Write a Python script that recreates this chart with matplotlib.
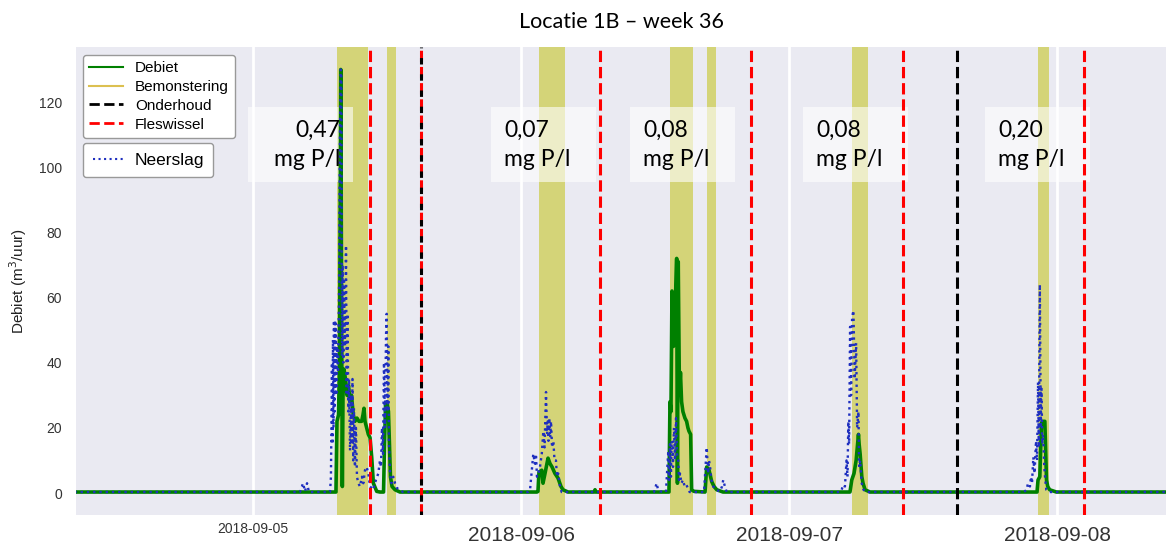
import matplotlib
matplotlib.use("Agg")
import matplotlib.pyplot as plt
from matplotlib.lines import Line2D
from matplotlib.patches import Rectangle

# tijd in uren sinds 2018-09-05 00:00
debiet_uur = [-16, 7.43, 7.52, 7.66, 7.75, 7.82, 7.86, 7.93, 8.00, 8.06, 8.15, 8.28, 8.42, 8.55,
              8.69, 8.82, 8.98, 9.13, 9.31, 9.49, 9.73, 9.85, 9.94, 10.03, 10.18, 10.33, 10.48,
              10.63, 10.78, 11.08, 11.37, 11.69, 11.78, 11.87, 12.00, 12.13, 12.22, 12.31, 12.45,
              12.72, 13.16,
              25.43, 25.52, 25.61, 25.86, 25.97, 26.15, 26.42, 26.60, 26.78, 27.04, 27.31, 27.58,
              27.76, 28.21, 30.54, 30.63, 30.72,
              37.25, 37.34, 37.43, 37.52, 37.65, 37.79, 37.94, 38.01, 38.08, 38.19, 38.28, 38.38,
              38.50, 38.68, 38.83, 38.95, 39.04, 39.19, 39.28, 39.49, 40.48, 40.63, 40.84, 41.08,
              41.29, 41.53, 42.09,
              53.46, 53.62, 53.82, 54.01, 54.22, 54.28, 54.37, 54.52, 54.63, 54.81, 55.25,
              70.21, 70.30, 70.46, 70.61, 70.73, 70.91, 71.06, 71.17, 71.34, 71.94, 82]
debiet = [0.3, 0.3, 22, 24, 40, 95, 130, 60, 2, 30, 38, 35, 30, 33,
          28, 30, 24, 22, 23, 22, 22, 24, 26, 22, 20, 18, 17,
          11, 3, 0.5, 0.3, 0.3, 15, 27, 28, 25, 15, 5, 2,
          1, 0.3,
          0.3, 0.5, 6.4, 7, 3, 6, 10.7, 9, 8, 6, 4.6, 2,
          1, 0.3, 0.3, 1, 0.3,
          0.3, 28, 25, 62, 45, 55, 72, 3, 71, 30, 37, 28,
          25, 23, 22, 20, 19, 18, 1, 0.5, 0.3, 8, 7, 3.5,
          2, 1, 0.3,
          0.3, 4, 6, 10, 18, 15, 12, 5, 3, 1, 0.3,
          0.3, 4, 5, 21.5, 22, 22, 4, 2, 1, 0.3, 0.3]

neerslag_uur = [-16, 4.21, 4.48, 4.66, 4.84, 5.01, 6.90, 6.98, 7.07, 7.12, 7.16, 7.21, 7.25, 7.30,
                7.34, 7.39, 7.43, 7.48, 7.52, 7.61, 7.70, 7.79, 7.85, 7.91, 7.97, 8.03, 8.09,
                8.15, 8.24, 8.33, 8.39, 8.46, 8.54, 8.60, 8.69, 8.78, 8.84, 8.91, 8.98, 9.04,
                9.13, 9.22, 9.31, 9.43, 9.58, 9.76, 9.88, 10.03, 10.18, 10.33, 10.48, 10.75,
                11.01, 11.22, 11.37, 11.46, 11.55, 11.64, 11.73, 11.82, 11.91, 11.97, 12.04,
                12.12, 12.18, 12.27, 12.40, 12.56, 12.72, 12.90, 13.43,
                24.63, 24.81, 24.99, 25.10, 25.25, 25.34, 25.43, 25.55, 25.70, 25.86, 26.00,
                26.11, 26.24, 26.33, 26.39, 26.46, 26.53, 26.61, 26.69, 26.78, 26.90, 27.00,
                27.13, 27.22, 27.34, 27.49, 27.64,
                35.91, 36.15, 36.27, 36.45, 36.98, 37.19, 37.25, 37.34, 37.43, 37.49, 37.61,
                37.70, 37.79, 37.88, 37.97, 38.08, 38.15, 38.24, 38.37, 38.50, 38.66, 38.81,
                39.10, 40.39, 40.52, 40.63, 40.75, 40.84, 40.93, 41.06, 41.22, 41.46, 41.82,
                42.00, 42.11, 42.26, 42.42,
                52.57, 52.72, 52.84, 53.01, 53.15, 53.24, 53.31, 53.38, 53.47, 53.56, 53.65,
                53.77, 53.88, 54.01, 54.10, 54.22, 54.28, 54.37, 54.51, 54.67, 54.91,
                69.04, 69.28, 69.40, 69.58, 69.67, 69.76, 69.88, 69.99, 70.12, 70.21, 70.30,
                70.37, 70.46, 70.55, 70.61, 70.68, 70.75, 70.86, 70.95, 71.04, 71.34, 82]
neerslag = [0.3, 0.3, 3, 0.5, 3, 0.3, 0.3, 5, 40, 15, 47, 20, 53, 25,
            53, 30, 52, 30, 45, 37, 60, 110, 130, 128, 42, 70, 40,
            65, 45, 76, 30, 55, 25, 35, 13, 30, 15, 35, 10, 26,
            8, 20, 5, 3, 2, 5, 3, 7, 8, 6, 2, 1,
            4, 6, 10, 8, 20, 12, 40, 20, 48, 55, 25,
            45, 15, 6, 3, 5, 3, 1.5, 0.3,
            0.3, 1, 8, 12, 9, 12, 5, 6, 8, 12, 19,
            14, 31, 18, 22, 16, 23, 17, 22, 14, 16, 10,
            10, 5, 6, 2, 0.3,
            0.3, 3, 1, 0.5, 0.3, 13, 4, 15, 5, 16, 8,
            20, 10, 23, 12, 10, 4, 6, 3, 4, 2, 2.5,
            0.3, 0.3, 8, 14, 6, 10, 8, 4, 2, 1, 0.5,
            2, 4, 2, 0.3,
            0.3, 1, 2.5, 2, 10, 5, 22, 15, 51, 30, 54,
            56, 35, 46, 20, 25, 8, 10, 3, 1, 0.3,
            0.3, 1, 3, 2, 5, 3, 11, 6, 16, 10, 34,
            14, 64, 20, 32, 15, 18, 8, 4, 1, 0.3, 0.3]

bemonstering_start = [7.52, 12.00, 25.61, 37.34, 40.66, 53.64, 70.30]
bemonstering_eind = [10.30, 12.80, 27.94, 39.40, 41.46, 55.07, 71.28]
fleswissel_uur = [10.48, 15.04, 31.07, 44.60, 58.20, 74.42]
onderhoud_uur = [15.04, 63.04]

concentraties = ["0,47", "0,07", "0,08", "0,08", "0,20"]
box_links = [-0.45, 21.31, 33.76, 49.25, 65.55]

dag_uur = [0, 24, 48, 72]
dag_labels = ["2018-09-05", "2018-09-06", "2018-09-07", "2018-09-08"]

fig = plt.figure(figsize=(11.66, 5.49), dpi=100)
ax = fig.add_axes([76 / 1166, 34 / 549, 1090 / 1166, 468 / 549])
ax.set_facecolor("#EAEAF2")
for s in ax.spines.values():
    s.set_visible(False)

for a, b in zip(bemonstering_start, bemonstering_eind):
    ax.axvspan(a, b, color="y", alpha=0.5, lw=0, zorder=1)

for i, links in enumerate(box_links):
    ax.add_patch(Rectangle((links, 95.5), 9.4, 23, facecolor="white", alpha=0.6,
                           lw=0, zorder=1.5))
    if i == 0:
        ax.text(links + 8.3, 106.8, concentraties[i] + "\nmg P/l", ha="right", va="center",
                multialignment="right", family="Lato", fontsize=16.5, linespacing=1.45, zorder=6)
    else:
        ax.text(links + 1.2, 106.8, concentraties[i] + "\nmg P/l", ha="left", va="center",
                family="Lato", fontsize=16.5, linespacing=1.45, zorder=6)

ax.plot(debiet_uur, debiet, color="green", lw=2.6, zorder=3)
ax.plot(neerslag_uur, neerslag, color="#1f2fbf", ls=":", lw=1.7, zorder=4)

for x in fleswissel_uur:
    ax.axvline(x, color="red", ls="--", lw=2.2, zorder=5)
for x in onderhoud_uur:
    # waar ook een fleswissel valt blijft het rood aan de randen zichtbaar
    stijl = (0.8, (2.1, 3.2)) if x in fleswissel_uur else "--"
    ax.axvline(x, color="black", ls=stijl, lw=2.2, zorder=5)

ax.set_xlim(-15.85, 81.76)
ax.set_ylim(-6.75, 136.9)
ax.set_xticks(dag_uur)
ax.set_xticklabels(dag_labels)
ax.set_yticks([0, 20, 40, 60, 80, 100, 120])
ax.grid(axis="x", color="white", lw=2, zorder=0.5)
ax.grid(axis="y", visible=False)
ax.set_axisbelow(True)
ax.tick_params(length=0, colors="#333333")
ax.tick_params(axis="y", labelsize=10, pad=10)
ax.tick_params(axis="x", pad=5)
for i, lab in enumerate(ax.get_xticklabels()):
    lab.set_family("Liberation Sans")
    lab.set_fontsize(10 if i == 0 else 15)
    if i > 0:
        lab.set_y(-0.008)
for lab in ax.get_yticklabels():
    lab.set_family("Liberation Sans")
ax.set_ylabel("Debiet (m$^3$/uur)", fontsize=11, family="Liberation Sans", color="#222222",
              labelpad=7)

handles = [Line2D([], [], color="green", lw=1.5),
           Line2D([], [], color="#dcc050", lw=1.5),
           Line2D([], [], color="black", ls="--", lw=2),
           Line2D([], [], color="red", ls="--", lw=2)]
leg1 = ax.legend(handles, ["Debiet", "Bemonstering", "Onderhoud", "Fleswissel"],
                 loc="upper left", bbox_to_anchor=(0.0064, 0.983), borderaxespad=0,
                 prop={"family": "Liberation Sans", "size": 11}, labelspacing=0.32,
                 handlelength=2.2, facecolor="white", edgecolor="#999999", framealpha=1)
ax.add_artist(leg1)
ax.legend([Line2D([], [], color="#1f2fbf", ls=":", lw=1.5)], ["Neerslag"],
          loc="upper left", bbox_to_anchor=(0.0064, 0.795), borderaxespad=0,
          prop={"family": "Liberation Sans", "size": 12.5},
          handlelength=1.9, handletextpad=0.5, borderpad=0.55,
          facecolor="white", edgecolor="#999999", framealpha=1)

fig.text(621 / 1166, 1 - 22 / 549, "Locatie 1B \u2013 week 36", ha="center", va="center",
         family="Lato", fontsize=15.5)

plt.savefig("out.png")
